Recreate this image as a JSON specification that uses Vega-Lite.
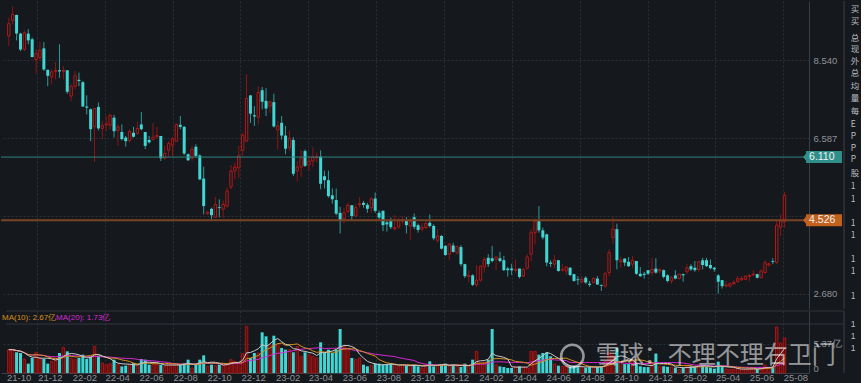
{
"$schema":"https://vega.github.io/schema/vega-lite/v6.json",
"background":"#15181d",
"padding":0,
"config":{"view":{"stroke":null},"concat":{"spacing":0},"font":"Liberation Sans",
"axis":{"labelFont":"Liberation Sans","labelColor":"#8e939a","labelFontSize":9.5,"gridColor":"#2c3037","gridDash":[2,2],"ticks":false,"domain":false}},
"datasets":{"k":[
{"d":"2021-10-11","o":9.15,"h":9.61,"l":8.90,"c":9.46,"v":4.32},
{"d":"2021-10-18","o":9.54,"h":9.90,"l":9.44,"c":9.69,"v":4.32},
{"d":"2021-10-25","o":9.68,"h":9.69,"l":9.04,"c":9.21,"v":3.83},
{"d":"2021-11-01","o":9.21,"h":9.23,"l":8.77,"c":8.81,"v":3.70},
{"d":"2021-11-08","o":8.81,"h":9.29,"l":8.77,"c":9.23,"v":2.59},
{"d":"2021-11-15","o":9.21,"h":9.32,"l":8.94,"c":9.04,"v":1.73},
{"d":"2021-11-22","o":9.07,"h":9.11,"l":8.61,"c":8.62,"v":2.78},
{"d":"2021-11-29","o":8.56,"h":8.82,"l":8.20,"c":8.71,"v":3.83},
{"d":"2021-12-06","o":8.61,"h":9.01,"l":8.52,"c":8.79,"v":2.78},
{"d":"2021-12-13","o":8.84,"h":9.00,"l":8.27,"c":8.31,"v":2.59},
{"d":"2021-12-20","o":8.30,"h":8.31,"l":7.89,"c":8.15,"v":1.73},
{"d":"2021-12-27","o":8.12,"h":8.31,"l":7.94,"c":8.25,"v":2.16},
{"d":"2022-01-03","o":8.26,"h":8.50,"l":8.06,"c":8.29,"v":2.78},
{"d":"2022-01-10","o":8.29,"h":8.94,"l":8.10,"c":8.26,"v":3.70},
{"d":"2022-01-17","o":8.26,"h":8.40,"l":8.06,"c":8.29,"v":4.75},
{"d":"2022-01-24","o":8.29,"h":8.29,"l":7.70,"c":7.75,"v":4.01},
{"d":"2022-01-31","o":7.64,"h":7.94,"l":7.52,"c":7.89,"v":2.78},
{"d":"2022-02-07","o":7.89,"h":8.27,"l":7.81,"c":8.15,"v":2.47},
{"d":"2022-02-14","o":8.05,"h":8.23,"l":7.89,"c":8.02,"v":2.78},
{"d":"2022-02-21","o":7.99,"h":8.02,"l":7.37,"c":7.38,"v":3.40},
{"d":"2022-02-28","o":7.38,"h":7.66,"l":7.18,"c":7.35,"v":2.59},
{"d":"2022-03-07","o":7.31,"h":7.33,"l":6.51,"c":6.81,"v":3.09},
{"d":"2022-03-14","o":6.87,"h":7.33,"l":5.99,"c":7.33,"v":4.94},
{"d":"2022-03-21","o":7.37,"h":7.48,"l":6.78,"c":6.83,"v":3.21},
{"d":"2022-03-28","o":6.83,"h":7.03,"l":6.56,"c":6.90,"v":1.85},
{"d":"2022-04-04","o":6.92,"h":7.14,"l":6.76,"c":6.94,"v":1.54},
{"d":"2022-04-11","o":6.91,"h":7.20,"l":6.81,"c":7.16,"v":1.73},
{"d":"2022-04-18","o":7.10,"h":7.17,"l":6.60,"c":6.76,"v":2.47},
{"d":"2022-04-25","o":6.78,"h":6.93,"l":6.39,"c":6.87,"v":1.54},
{"d":"2022-05-02","o":6.74,"h":6.93,"l":6.53,"c":6.56,"v":1.23},
{"d":"2022-05-09","o":6.60,"h":6.64,"l":6.37,"c":6.51,"v":1.36},
{"d":"2022-05-16","o":6.53,"h":6.81,"l":6.47,"c":6.75,"v":1.54},
{"d":"2022-05-23","o":6.72,"h":6.87,"l":6.60,"c":6.62,"v":1.85},
{"d":"2022-05-30","o":6.70,"h":7.00,"l":6.68,"c":6.83,"v":1.54},
{"d":"2022-06-06","o":6.93,"h":7.24,"l":6.78,"c":6.81,"v":2.59},
{"d":"2022-06-13","o":6.74,"h":6.74,"l":6.31,"c":6.39,"v":2.47},
{"d":"2022-06-20","o":6.54,"h":6.64,"l":6.45,"c":6.48,"v":1.54},
{"d":"2022-06-27","o":6.55,"h":6.97,"l":6.53,"c":6.61,"v":1.54},
{"d":"2022-07-04","o":6.62,"h":6.87,"l":6.58,"c":6.65,"v":1.54},
{"d":"2022-07-11","o":6.64,"h":6.64,"l":6.01,"c":6.08,"v":1.54},
{"d":"2022-07-18","o":6.08,"h":6.39,"l":6.05,"c":6.20,"v":1.23},
{"d":"2022-07-25","o":6.28,"h":6.51,"l":6.11,"c":6.45,"v":1.54},
{"d":"2022-08-01","o":6.41,"h":6.61,"l":6.14,"c":6.57,"v":1.54},
{"d":"2022-08-08","o":6.51,"h":6.95,"l":6.50,"c":6.93,"v":1.54},
{"d":"2022-08-15","o":6.92,"h":7.14,"l":6.81,"c":6.87,"v":1.54},
{"d":"2022-08-22","o":6.87,"h":6.89,"l":6.16,"c":6.20,"v":1.85},
{"d":"2022-08-29","o":6.18,"h":6.20,"l":6.01,"c":6.03,"v":2.47},
{"d":"2022-09-05","o":6.08,"h":6.39,"l":6.01,"c":6.30,"v":0.93},
{"d":"2022-09-12","o":6.37,"h":6.43,"l":6.10,"c":6.14,"v":1.54},
{"d":"2022-09-19","o":6.15,"h":6.18,"l":5.53,"c":5.55,"v":2.47},
{"d":"2022-09-26","o":5.57,"h":5.87,"l":4.67,"c":4.88,"v":3.27},
{"d":"2022-10-03","o":4.69,"h":4.76,"l":4.65,"c":4.73,"v":1.23},
{"d":"2022-10-10","o":4.81,"h":4.84,"l":4.55,"c":4.65,"v":1.54},
{"d":"2022-10-17","o":4.60,"h":5.11,"l":4.59,"c":4.92,"v":1.36},
{"d":"2022-10-24","o":4.85,"h":5.05,"l":4.60,"c":4.83,"v":1.54},
{"d":"2022-10-31","o":4.80,"h":5.02,"l":4.59,"c":4.92,"v":1.67},
{"d":"2022-11-07","o":4.88,"h":5.34,"l":4.84,"c":5.26,"v":1.67},
{"d":"2022-11-14","o":5.36,"h":5.91,"l":5.30,"c":5.76,"v":2.47},
{"d":"2022-11-21","o":5.76,"h":5.97,"l":5.55,"c":5.86,"v":2.16},
{"d":"2022-11-28","o":5.84,"h":6.39,"l":5.59,"c":6.14,"v":1.85},
{"d":"2022-12-05","o":6.28,"h":6.72,"l":6.14,"c":6.66,"v":3.58},
{"d":"2022-12-12","o":6.51,"h":8.19,"l":6.50,"c":7.58,"v":8.64},
{"d":"2022-12-19","o":7.66,"h":7.66,"l":6.97,"c":7.20,"v":2.78},
{"d":"2022-12-26","o":7.16,"h":7.39,"l":6.89,"c":7.13,"v":3.70},
{"d":"2023-01-02","o":7.11,"h":7.89,"l":6.93,"c":7.73,"v":3.70},
{"d":"2023-01-09","o":7.79,"h":7.87,"l":7.31,"c":7.50,"v":7.53},
{"d":"2023-01-16","o":7.52,"h":7.84,"l":7.14,"c":7.33,"v":6.79},
{"d":"2023-01-23","o":7.39,"h":7.53,"l":7.22,"c":7.50,"v":5.25},
{"d":"2023-01-30","o":7.49,"h":7.70,"l":6.85,"c":6.88,"v":6.91},
{"d":"2023-02-06","o":6.79,"h":7.02,"l":6.30,"c":6.89,"v":5.43},
{"d":"2023-02-13","o":6.97,"h":7.14,"l":6.55,"c":6.65,"v":4.63},
{"d":"2023-02-20","o":6.65,"h":6.89,"l":6.18,"c":6.32,"v":4.32},
{"d":"2023-02-27","o":6.35,"h":6.78,"l":6.26,"c":6.58,"v":4.32},
{"d":"2023-03-06","o":6.54,"h":6.61,"l":5.63,"c":5.69,"v":3.83},
{"d":"2023-03-13","o":5.76,"h":6.01,"l":5.49,"c":5.86,"v":4.94},
{"d":"2023-03-20","o":5.86,"h":6.28,"l":5.61,"c":6.09,"v":3.09},
{"d":"2023-03-27","o":6.26,"h":6.30,"l":5.86,"c":5.89,"v":3.83},
{"d":"2023-04-03","o":5.91,"h":6.14,"l":5.76,"c":6.01,"v":3.40},
{"d":"2023-04-10","o":6.01,"h":6.36,"l":5.86,"c":6.11,"v":3.09},
{"d":"2023-04-17","o":6.09,"h":6.22,"l":5.97,"c":6.12,"v":2.78},
{"d":"2023-04-24","o":6.12,"h":6.28,"l":5.30,"c":5.44,"v":5.68},
{"d":"2023-05-01","o":5.63,"h":5.77,"l":5.32,"c":5.53,"v":3.83},
{"d":"2023-05-08","o":5.53,"h":5.77,"l":5.09,"c":5.13,"v":4.32},
{"d":"2023-05-15","o":5.15,"h":5.32,"l":4.94,"c":5.05,"v":3.70},
{"d":"2023-05-22","o":5.03,"h":5.32,"l":4.65,"c":4.69,"v":4.32},
{"d":"2023-05-29","o":4.71,"h":4.86,"l":4.19,"c":4.52,"v":8.15},
{"d":"2023-06-05","o":4.57,"h":4.84,"l":4.44,"c":4.71,"v":4.94},
{"d":"2023-06-12","o":4.74,"h":4.96,"l":4.71,"c":4.90,"v":4.32},
{"d":"2023-06-19","o":4.90,"h":4.90,"l":4.52,"c":4.63,"v":2.78},
{"d":"2023-06-26","o":4.63,"h":4.92,"l":4.60,"c":4.84,"v":2.47},
{"d":"2023-07-03","o":4.91,"h":5.11,"l":4.84,"c":4.94,"v":2.78},
{"d":"2023-07-10","o":4.96,"h":5.01,"l":4.84,"c":4.91,"v":1.54},
{"d":"2023-07-17","o":4.91,"h":4.96,"l":4.71,"c":4.81,"v":1.23},
{"d":"2023-07-24","o":4.84,"h":5.11,"l":4.71,"c":5.06,"v":1.36},
{"d":"2023-07-31","o":5.07,"h":5.22,"l":4.71,"c":4.76,"v":1.73},
{"d":"2023-08-07","o":4.71,"h":4.77,"l":4.55,"c":4.59,"v":1.73},
{"d":"2023-08-14","o":4.76,"h":4.77,"l":4.25,"c":4.40,"v":1.54},
{"d":"2023-08-21","o":4.47,"h":4.52,"l":4.24,"c":4.42,"v":1.54},
{"d":"2023-08-28","o":4.50,"h":4.59,"l":4.30,"c":4.35,"v":1.73},
{"d":"2023-09-04","o":4.31,"h":4.65,"l":4.27,"c":4.34,"v":1.36},
{"d":"2023-09-11","o":4.36,"h":4.59,"l":4.30,"c":4.52,"v":1.23},
{"d":"2023-09-18","o":4.51,"h":4.63,"l":4.42,"c":4.54,"v":1.54},
{"d":"2023-09-25","o":4.53,"h":4.60,"l":4.19,"c":4.40,"v":1.36},
{"d":"2023-10-02","o":4.38,"h":4.59,"l":4.02,"c":4.50,"v":1.36},
{"d":"2023-10-09","o":4.60,"h":4.69,"l":4.30,"c":4.36,"v":1.54},
{"d":"2023-10-16","o":4.40,"h":4.44,"l":4.21,"c":4.28,"v":1.23},
{"d":"2023-10-23","o":4.30,"h":4.46,"l":4.24,"c":4.35,"v":0.93},
{"d":"2023-10-30","o":4.34,"h":4.50,"l":4.30,"c":4.44,"v":1.54},
{"d":"2023-11-06","o":4.46,"h":4.67,"l":4.34,"c":4.38,"v":2.16},
{"d":"2023-11-13","o":4.38,"h":4.42,"l":4.02,"c":4.07,"v":1.23},
{"d":"2023-11-20","o":4.02,"h":4.30,"l":3.96,"c":4.13,"v":1.36},
{"d":"2023-11-27","o":4.13,"h":4.15,"l":3.79,"c":3.81,"v":1.54},
{"d":"2023-12-04","o":3.88,"h":3.90,"l":3.63,"c":3.65,"v":1.73},
{"d":"2023-12-11","o":3.67,"h":3.96,"l":3.52,"c":3.92,"v":1.23},
{"d":"2023-12-18","o":3.89,"h":3.96,"l":3.71,"c":3.73,"v":1.54},
{"d":"2023-12-25","o":3.71,"h":3.88,"l":3.65,"c":3.86,"v":1.23},
{"d":"2024-01-01","o":3.85,"h":3.90,"l":3.37,"c":3.42,"v":1.11},
{"d":"2024-01-08","o":3.42,"h":3.43,"l":3.07,"c":3.12,"v":1.73},
{"d":"2024-01-15","o":3.11,"h":3.27,"l":2.96,"c":3.14,"v":1.23},
{"d":"2024-01-22","o":3.14,"h":3.17,"l":2.87,"c":2.90,"v":2.47},
{"d":"2024-01-29","o":2.90,"h":3.40,"l":2.85,"c":3.02,"v":4.01},
{"d":"2024-02-05","o":3.02,"h":3.40,"l":2.98,"c":3.37,"v":1.85},
{"d":"2024-02-12","o":3.35,"h":3.60,"l":3.21,"c":3.54,"v":1.98},
{"d":"2024-02-19","o":3.58,"h":3.67,"l":3.35,"c":3.42,"v":2.47},
{"d":"2024-02-26","o":3.57,"h":3.88,"l":3.46,"c":3.50,"v":8.15},
{"d":"2024-03-04","o":3.54,"h":3.61,"l":3.27,"c":3.60,"v":1.54},
{"d":"2024-03-11","o":3.57,"h":3.73,"l":3.47,"c":3.50,"v":1.23},
{"d":"2024-03-18","o":3.52,"h":3.63,"l":3.25,"c":3.27,"v":1.11},
{"d":"2024-03-25","o":3.31,"h":3.35,"l":3.11,"c":3.27,"v":0.93},
{"d":"2024-04-01","o":3.31,"h":3.43,"l":3.15,"c":3.27,"v":0.93},
{"d":"2024-04-08","o":3.27,"h":3.54,"l":3.21,"c":3.29,"v":1.23},
{"d":"2024-04-15","o":3.31,"h":3.31,"l":3.06,"c":3.10,"v":1.23},
{"d":"2024-04-22","o":3.12,"h":3.32,"l":3.10,"c":3.29,"v":1.11},
{"d":"2024-04-29","o":3.32,"h":3.67,"l":3.29,"c":3.60,"v":0.93},
{"d":"2024-05-06","o":3.67,"h":4.30,"l":3.50,"c":4.21,"v":4.01},
{"d":"2024-05-13","o":4.21,"h":4.57,"l":3.92,"c":4.50,"v":4.01},
{"d":"2024-05-20","o":4.50,"h":4.88,"l":4.21,"c":4.27,"v":3.40},
{"d":"2024-05-27","o":4.27,"h":4.34,"l":4.04,"c":4.09,"v":3.70},
{"d":"2024-06-03","o":4.17,"h":4.19,"l":3.37,"c":3.46,"v":3.83},
{"d":"2024-06-10","o":3.46,"h":3.52,"l":3.35,"c":3.43,"v":3.09},
{"d":"2024-06-17","o":3.42,"h":3.65,"l":3.32,"c":3.52,"v":1.67},
{"d":"2024-06-24","o":3.52,"h":3.52,"l":3.23,"c":3.25,"v":1.36},
{"d":"2024-07-01","o":3.27,"h":3.43,"l":3.23,"c":3.29,"v":1.23},
{"d":"2024-07-08","o":3.25,"h":3.37,"l":3.15,"c":3.35,"v":1.25},
{"d":"2024-07-15","o":3.33,"h":3.35,"l":3.12,"c":3.15,"v":1.15},
{"d":"2024-07-22","o":3.17,"h":3.18,"l":2.98,"c":3.00,"v":1.30},
{"d":"2024-07-29","o":3.04,"h":3.12,"l":2.90,"c":3.02,"v":1.10},
{"d":"2024-08-05","o":2.98,"h":3.12,"l":2.93,"c":3.04,"v":1.10},
{"d":"2024-08-12","o":3.08,"h":3.12,"l":2.93,"c":2.96,"v":1.00},
{"d":"2024-08-19","o":2.93,"h":3.00,"l":2.85,"c":2.90,"v":1.10},
{"d":"2024-08-26","o":2.96,"h":3.10,"l":2.93,"c":3.06,"v":1.15},
{"d":"2024-09-02","o":3.06,"h":3.12,"l":2.90,"c":2.91,"v":1.10},
{"d":"2024-09-09","o":2.90,"h":2.91,"l":2.75,"c":2.88,"v":1.25},
{"d":"2024-09-16","o":2.87,"h":3.23,"l":2.83,"c":3.18,"v":2.10},
{"d":"2024-09-23","o":3.21,"h":3.79,"l":3.12,"c":3.71,"v":3.70},
{"d":"2024-09-30","o":4.09,"h":4.60,"l":3.92,"c":4.30,"v":3.30},
{"d":"2024-10-07","o":4.30,"h":4.44,"l":3.29,"c":3.52,"v":4.60},
{"d":"2024-10-14","o":3.48,"h":3.60,"l":3.32,"c":3.52,"v":2.10},
{"d":"2024-10-21","o":3.56,"h":3.57,"l":3.37,"c":3.46,"v":1.65},
{"d":"2024-10-28","o":3.48,"h":3.60,"l":3.35,"c":3.37,"v":1.65},
{"d":"2024-11-04","o":3.42,"h":3.63,"l":3.32,"c":3.52,"v":2.10},
{"d":"2024-11-11","o":3.50,"h":3.50,"l":3.15,"c":3.18,"v":1.65},
{"d":"2024-11-18","o":3.18,"h":3.35,"l":3.10,"c":3.12,"v":1.25},
{"d":"2024-11-25","o":3.18,"h":3.23,"l":3.06,"c":3.15,"v":1.10},
{"d":"2024-12-02","o":3.27,"h":3.27,"l":3.15,"c":3.18,"v":1.10},
{"d":"2024-12-09","o":3.21,"h":3.57,"l":3.12,"c":3.29,"v":1.65},
{"d":"2024-12-16","o":3.31,"h":3.57,"l":3.18,"c":3.21,"v":3.60},
{"d":"2024-12-23","o":3.25,"h":3.32,"l":3.18,"c":3.28,"v":1.25},
{"d":"2024-12-30","o":3.27,"h":3.29,"l":3.06,"c":3.10,"v":1.25},
{"d":"2025-01-06","o":3.14,"h":3.17,"l":2.96,"c":3.00,"v":1.15},
{"d":"2025-01-13","o":3.00,"h":3.12,"l":2.93,"c":3.08,"v":1.10},
{"d":"2025-01-20","o":3.14,"h":3.27,"l":3.04,"c":3.06,"v":1.00},
{"d":"2025-01-27","o":3.06,"h":3.18,"l":3.04,"c":3.17,"v":0.65},
{"d":"2025-02-03","o":3.17,"h":3.18,"l":2.98,"c":3.14,"v":1.00},
{"d":"2025-02-10","o":3.23,"h":3.42,"l":3.18,"c":3.33,"v":1.30},
{"d":"2025-02-17","o":3.37,"h":3.42,"l":3.25,"c":3.29,"v":1.25},
{"d":"2025-02-24","o":3.33,"h":3.50,"l":3.23,"c":3.27,"v":1.25},
{"d":"2025-03-03","o":3.29,"h":3.50,"l":3.23,"c":3.48,"v":1.50},
{"d":"2025-03-10","o":3.52,"h":3.58,"l":3.29,"c":3.40,"v":1.40},
{"d":"2025-03-17","o":3.52,"h":3.58,"l":3.35,"c":3.37,"v":1.15},
{"d":"2025-03-24","o":3.40,"h":3.54,"l":3.29,"c":3.32,"v":1.00},
{"d":"2025-03-31","o":3.33,"h":3.35,"l":3.23,"c":3.29,"v":0.80},
{"d":"2025-04-07","o":3.14,"h":3.17,"l":2.68,"c":2.98,"v":2.10},
{"d":"2025-04-14","o":3.02,"h":3.02,"l":2.81,"c":2.87,"v":1.10},
{"d":"2025-04-21","o":2.87,"h":3.00,"l":2.85,"c":2.90,"v":0.75},
{"d":"2025-04-28","o":2.87,"h":2.96,"l":2.83,"c":2.93,"v":0.66},
{"d":"2025-05-05","o":2.93,"h":3.02,"l":2.90,"c":2.96,"v":0.75},
{"d":"2025-05-12","o":2.98,"h":3.12,"l":2.96,"c":3.06,"v":0.83},
{"d":"2025-05-19","o":3.03,"h":3.12,"l":3.00,"c":3.06,"v":0.66},
{"d":"2025-05-26","o":3.04,"h":3.14,"l":3.02,"c":3.12,"v":0.66},
{"d":"2025-06-02","o":3.11,"h":3.17,"l":2.98,"c":3.14,"v":0.75},
{"d":"2025-06-09","o":3.15,"h":3.27,"l":3.12,"c":3.17,"v":0.83},
{"d":"2025-06-16","o":3.17,"h":3.18,"l":3.06,"c":3.08,"v":0.75},
{"d":"2025-06-23","o":3.08,"h":3.29,"l":3.06,"c":3.25,"v":1.00},
{"d":"2025-06-30","o":3.21,"h":3.52,"l":3.18,"c":3.46,"v":1.50},
{"d":"2025-07-07","o":3.40,"h":3.46,"l":3.35,"c":3.43,"v":1.00},
{"d":"2025-07-14","o":3.50,"h":3.57,"l":3.42,"c":3.48,"v":1.16},
{"d":"2025-07-21","o":3.46,"h":4.52,"l":3.43,"c":4.40,"v":8.52},
{"d":"2025-07-28","o":4.35,"h":4.67,"l":4.13,"c":4.50,"v":5.56},
{"d":"2025-08-04","o":4.49,"h":5.24,"l":4.34,"c":5.15,"v":6.48}
],
"side":[
{"p":9.83,"t":"买"},{"p":9.53,"t":"买"},{"p":9.10,"t":"总"},{"p":8.82,"t":"现"},{"p":8.52,"t":"外"},
{"p":8.22,"t":"总"},{"p":7.89,"t":"均"},{"p":7.59,"t":"量"},{"p":7.27,"t":"每"},{"p":6.94,"t":"E"},
{"p":6.64,"t":"P"},{"p":6.34,"t":"P"},{"p":6.06,"t":"P"},{"p":5.71,"t":"股"},{"p":5.38,"t":"1"},
{"p":5.06,"t":"1"},{"p":4.45,"t":"1"},{"p":4.15,"t":"1"},{"p":3.55,"t":"1"},{"p":3.25,"t":"1"},{"p":2.62,"t":"1"}
],
"side2":[{"p":9.07,"t":"1"},{"p":6.85,"t":"1"},{"p":4.63,"t":"1"}],
"mlab":[
{"d":"2021-10-06","t":"21-10"},{"d":"2021-12-01","t":"21-12"},{"d":"2022-02-01","t":"22-02"},{"d":"2022-04-01","t":"22-04"},
{"d":"2022-06-01","t":"22-06"},{"d":"2022-08-01","t":"22-08"},{"d":"2022-10-01","t":"22-10"},{"d":"2022-12-01","t":"22-12"},
{"d":"2023-02-01","t":"23-02"},{"d":"2023-04-01","t":"23-04"},{"d":"2023-06-01","t":"23-06"},{"d":"2023-08-01","t":"23-08"},
{"d":"2023-10-01","t":"23-10"},{"d":"2023-12-01","t":"23-12"},{"d":"2024-02-01","t":"24-02"},{"d":"2024-04-01","t":"24-04"},
{"d":"2024-06-01","t":"24-06"},{"d":"2024-08-01","t":"24-08"},{"d":"2024-10-01","t":"24-10"},{"d":"2024-12-01","t":"24-12"},
{"d":"2025-02-01","t":"25-02"},{"d":"2025-04-01","t":"25-04"},{"d":"2025-06-01","t":"25-06"},{"d":"2025-08-01","t":"25-08"}
]
},
"vconcat":[
{
"width":808,"height":308,
"layer":[
{"data":{"name":"k"},"transform":[{"filter":"datum.c >= datum.o"}],
 "mark":{"type":"rule","color":"#8f1414","strokeWidth":1},
 "encoding":{
  "x":{"field":"d","type":"temporal","title":null,"scale":{"type":"utc","domain":[{"year":2021,"month":10,"date":6,"utc":true},{"year":2025,"month":9,"date":8,"utc":true}]},
       "axis":{"values":[{"year":2021,"month":12,"date":1,"utc":true},{"year":2022,"month":2,"date":1,"utc":true},{"year":2022,"month":4,"date":1,"utc":true},{"year":2022,"month":6,"date":1,"utc":true},{"year":2022,"month":8,"date":1,"utc":true},{"year":2022,"month":10,"date":1,"utc":true},{"year":2022,"month":12,"date":1,"utc":true},{"year":2023,"month":2,"date":1,"utc":true},{"year":2023,"month":4,"date":1,"utc":true},{"year":2023,"month":6,"date":1,"utc":true},{"year":2023,"month":8,"date":1,"utc":true},{"year":2023,"month":10,"date":1,"utc":true},{"year":2023,"month":12,"date":1,"utc":true},{"year":2024,"month":2,"date":1,"utc":true},{"year":2024,"month":4,"date":1,"utc":true},{"year":2024,"month":6,"date":1,"utc":true},{"year":2024,"month":8,"date":1,"utc":true},{"year":2024,"month":10,"date":1,"utc":true},{"year":2024,"month":12,"date":1,"utc":true},{"year":2025,"month":2,"date":1,"utc":true},{"year":2025,"month":4,"date":1,"utc":true},{"year":2025,"month":6,"date":1,"utc":true},{"year":2025,"month":8,"date":1,"utc":true}],
               "labels":false,"grid":true,"domain":false,"ticks":false}},
  "y":{"field":"l","type":"quantitative","title":null,"scale":{"domain":[2.295,10.029],"nice":false,"zero":false},
       "axis":{"orient":"right","values":[2.68,4.633,6.587,8.54],"format":".3f","grid":true,"domain":true,"domainColor":"#3a3e45","labelPadding":4,
               "labelExpr":"datum.value > 4.6 && datum.value < 4.7 ? '' : datum.label"}},
  "y2":{"field":"h"}}},
{"data":{"name":"k"},"transform":[{"filter":"datum.c < datum.o"}],
 "mark":{"type":"rule","color":"#2e9c99","strokeWidth":1},
 "encoding":{
  "x":{"field":"d","type":"temporal","title":null,"scale":{"type":"utc","domain":[{"year":2021,"month":10,"date":6,"utc":true},{"year":2025,"month":9,"date":8,"utc":true}]}},
  "y":{"field":"l","type":"quantitative","title":null,"scale":{"domain":[2.295,10.029],"nice":false,"zero":false}},
  "y2":{"field":"h"}}},
{"data":{"name":"k"},"transform":[{"filter":"datum.c < datum.o"}],
 "mark":{"type":"bar","width":3,"color":"#40d6d3"},
 "encoding":{
  "x":{"field":"d","type":"temporal","title":null,"scale":{"type":"utc","domain":[{"year":2021,"month":10,"date":6,"utc":true},{"year":2025,"month":9,"date":8,"utc":true}]}},
  "y":{"field":"o","type":"quantitative","title":null,"scale":{"domain":[2.295,10.029],"nice":false,"zero":false}},
  "y2":{"field":"c"}}},
{"data":{"name":"k"},"transform":[{"filter":"datum.c >= datum.o"}],
 "mark":{"type":"bar","width":2.4,"fill":"#15181d","stroke":"#b01a1a","strokeWidth":1},
 "encoding":{
  "x":{"field":"d","type":"temporal","title":null,"scale":{"type":"utc","domain":[{"year":2021,"month":10,"date":6,"utc":true},{"year":2025,"month":9,"date":8,"utc":true}]}},
  "y":{"field":"o","type":"quantitative","title":null,"scale":{"domain":[2.295,10.029],"nice":false,"zero":false}},
  "y2":{"field":"c"}}},
{"data":{"values":[{"p":6.110}]},
 "mark":{"type":"rule","color":"#2f8682","strokeWidth":1},
 "encoding":{"y":{"field":"p","type":"quantitative","title":null,"scale":{"domain":[2.295,10.029],"nice":false,"zero":false}}}},
{"data":{"values":[{"p":4.526}]},
 "mark":{"type":"rule","color":"#7a4424","strokeWidth":2},
 "encoding":{"y":{"field":"p","type":"quantitative","title":null,"scale":{"domain":[2.295,10.029],"nice":false,"zero":false}}}},
{"data":{"values":[{"p":6.110,"t":"6.110"}]},
 "mark":{"type":"point","shape":"M-1.167,0L-1,-0.2L-1,-0.333L1,-0.333L1,0.333L-1,0.333L-1,0.2Z","size":1296,"filled":true,"opacity":1,"color":"#2e8f8b"},
 "encoding":{"x":{"datum":{"year":2025,"month":10,"date":14,"utc":true},"type":"temporal","scale":{"type":"utc","domain":[{"year":2021,"month":10,"date":6,"utc":true},{"year":2025,"month":9,"date":8,"utc":true}]}},
  "y":{"field":"p","type":"quantitative","title":null,"scale":{"domain":[2.295,10.029],"nice":false,"zero":false}}}},
{"data":{"values":[{"p":4.526,"t":"4.526"}]},
 "mark":{"type":"point","shape":"M-1.167,0L-1,-0.2L-1,-0.333L1,-0.333L1,0.333L-1,0.333L-1,0.2Z","size":1296,"filled":true,"opacity":1,"color":"#c2601d"},
 "encoding":{"x":{"datum":{"year":2025,"month":10,"date":14,"utc":true},"type":"temporal","scale":{"type":"utc","domain":[{"year":2021,"month":10,"date":6,"utc":true},{"year":2025,"month":9,"date":8,"utc":true}]}},
  "y":{"field":"p","type":"quantitative","title":null,"scale":{"domain":[2.295,10.029],"nice":false,"zero":false}}}},
{"data":{"values":[{"p":6.110,"t":"6.110"},{"p":4.526,"t":"4.526"}]},
 "mark":{"type":"text","color":"#f2f2f2","fontSize":10.5,"align":"left","baseline":"middle","dx":-15},
 "encoding":{"x":{"datum":{"year":2025,"month":10,"date":14,"utc":true},"type":"temporal","scale":{"type":"utc","domain":[{"year":2021,"month":10,"date":6,"utc":true},{"year":2025,"month":9,"date":8,"utc":true}]}},
  "y":{"field":"p","type":"quantitative","title":null,"scale":{"domain":[2.295,10.029],"nice":false,"zero":false}},
  "text":{"field":"t"}}},
{"data":{"values":[{"a":1}]},
 "mark":{"type":"rule","color":"#2a2d33","strokeWidth":2},
 "encoding":{"x":{"datum":{"year":2025,"month":11,"date":19,"utc":true},"type":"temporal","scale":{"type":"utc","domain":[{"year":2021,"month":10,"date":6,"utc":true},{"year":2025,"month":9,"date":8,"utc":true}]}}}},
{"data":{"values":[{"a":1}]},
 "mark":{"type":"rule","color":"#15181d","strokeWidth":0.2,"opacity":0},
 "encoding":{"x":{"datum":{"year":2025,"month":12,"date":18,"utc":true},"type":"temporal","scale":{"type":"utc","domain":[{"year":2021,"month":10,"date":6,"utc":true},{"year":2025,"month":9,"date":8,"utc":true}]}}}},
{"data":{"name":"side"},
 "mark":{"type":"text","color":"#b9bdc3","fontSize":8.5,"font":"Noto Sans CJK SC","align":"left","baseline":"middle"},
 "encoding":{"x":{"datum":{"year":2025,"month":12,"date":1,"utc":true},"type":"temporal","scale":{"type":"utc","domain":[{"year":2021,"month":10,"date":6,"utc":true},{"year":2025,"month":9,"date":8,"utc":true}]}},
  "y":{"field":"p","type":"quantitative","title":null,"scale":{"domain":[2.295,10.029],"nice":false,"zero":false}},
  "text":{"field":"t"}}}
]
},
{
"width":808,"height":62,
"layer":[
{"data":{"name":"k"},"transform":[{"filter":"datum.c < datum.o"}],
 "mark":{"type":"bar","width":3,"color":"#40d6d3"},
 "encoding":{
  "x":{"field":"d","type":"temporal","title":null,"scale":{"type":"utc","domain":[{"year":2021,"month":10,"date":6,"utc":true},{"year":2025,"month":9,"date":8,"utc":true}]},
       "axis":{"values":[{"year":2021,"month":12,"date":1,"utc":true},{"year":2022,"month":2,"date":1,"utc":true},{"year":2022,"month":4,"date":1,"utc":true},{"year":2022,"month":6,"date":1,"utc":true},{"year":2022,"month":8,"date":1,"utc":true},{"year":2022,"month":10,"date":1,"utc":true},{"year":2022,"month":12,"date":1,"utc":true},{"year":2023,"month":2,"date":1,"utc":true},{"year":2023,"month":4,"date":1,"utc":true},{"year":2023,"month":6,"date":1,"utc":true},{"year":2023,"month":8,"date":1,"utc":true},{"year":2023,"month":10,"date":1,"utc":true},{"year":2023,"month":12,"date":1,"utc":true},{"year":2024,"month":2,"date":1,"utc":true},{"year":2024,"month":4,"date":1,"utc":true},{"year":2024,"month":6,"date":1,"utc":true},{"year":2024,"month":8,"date":1,"utc":true},{"year":2024,"month":10,"date":1,"utc":true},{"year":2024,"month":12,"date":1,"utc":true},{"year":2025,"month":2,"date":1,"utc":true},{"year":2025,"month":4,"date":1,"utc":true},{"year":2025,"month":6,"date":1,"utc":true},{"year":2025,"month":8,"date":1,"utc":true}],
               "labels":false,"grid":true,"domain":true,"domainColor":"#3a3e45","ticks":false}},
  "y":{"field":"v","type":"quantitative","title":null,"scale":{"domain":[0,11.48],"nice":false},
       "axis":{"orient":"right","values":[0,5.37],"grid":true,"domain":true,"domainColor":"#3a3e45","labelPadding":4,
               "labelExpr":"datum.value == 0 ? '0' : '5.37亿'",
               "labelBaseline":{"condition":{"test":"datum.value == 0","value":"bottom"},"value":"middle"}}}}},
{"data":{"name":"k"},"transform":[{"filter":"datum.c >= datum.o"}],
 "mark":{"type":"bar","width":2.4,"fill":"#5c0e0e","stroke":"#a31616","strokeWidth":1},
 "encoding":{
  "x":{"field":"d","type":"temporal","title":null,"scale":{"type":"utc","domain":[{"year":2021,"month":10,"date":6,"utc":true},{"year":2025,"month":9,"date":8,"utc":true}]}},
  "y":{"field":"v","type":"quantitative","title":null,"scale":{"domain":[0,11.48],"nice":false}}}},
{"data":{"name":"k"},"transform":[{"window":[{"op":"mean","field":"v","as":"ma20"}],"frame":[-19,0],"sort":[{"field":"d"}]}],
 "mark":{"type":"line","color":"#d42ad4","strokeWidth":1},
 "encoding":{
  "x":{"field":"d","type":"temporal","title":null,"scale":{"type":"utc","domain":[{"year":2021,"month":10,"date":6,"utc":true},{"year":2025,"month":9,"date":8,"utc":true}]}},
  "y":{"field":"ma20","type":"quantitative","title":null,"scale":{"domain":[0,11.48],"nice":false}}}},
{"data":{"name":"k"},"transform":[{"window":[{"op":"mean","field":"v","as":"ma10"}],"frame":[-9,0],"sort":[{"field":"d"}]}],
 "mark":{"type":"line","color":"#d8901c","strokeWidth":1},
 "encoding":{
  "x":{"field":"d","type":"temporal","title":null,"scale":{"type":"utc","domain":[{"year":2021,"month":10,"date":6,"utc":true},{"year":2025,"month":9,"date":8,"utc":true}]}},
  "y":{"field":"ma10","type":"quantitative","title":null,"scale":{"domain":[0,11.48],"nice":false}}}},
{"data":{"name":"k"},"transform":[{"window":[{"op":"mean","field":"v","as":"ma5"}],"frame":[-4,0],"sort":[{"field":"d"}]}],
 "mark":{"type":"line","color":"#c9c9c9","strokeWidth":1},
 "encoding":{
  "x":{"field":"d","type":"temporal","title":null,"scale":{"type":"utc","domain":[{"year":2021,"month":10,"date":6,"utc":true},{"year":2025,"month":9,"date":8,"utc":true}]}},
  "y":{"field":"ma5","type":"quantitative","title":null,"scale":{"domain":[0,11.48],"nice":false}}}},
{"data":{"values":[{"p":11.48},{"p":9.07}]},
 "mark":{"type":"rule","color":"#33373d","strokeWidth":1},
 "encoding":{
  "x":{"datum":{"year":2021,"month":10,"date":6,"utc":true},"type":"temporal","scale":{"type":"utc","domain":[{"year":2021,"month":10,"date":6,"utc":true},{"year":2025,"month":9,"date":8,"utc":true}]}},
  "x2":{"datum":{"year":2025,"month":11,"date":19,"utc":true}},
  "y":{"field":"p","type":"quantitative","title":null,"scale":{"domain":[0,11.48],"nice":false}}}},
{"data":{"values":[{"a":1}]},
 "mark":{"type":"rule","color":"#2a2d33","strokeWidth":2},
 "encoding":{"x":{"datum":{"year":2025,"month":11,"date":19,"utc":true},"type":"temporal","scale":{"type":"utc","domain":[{"year":2021,"month":10,"date":6,"utc":true},{"year":2025,"month":9,"date":8,"utc":true}]}}}},
{"data":{"values":[{"a":1}]},
 "mark":{"type":"rule","color":"#15181d","strokeWidth":0.2,"opacity":0},
 "encoding":{"x":{"datum":{"year":2025,"month":12,"date":18,"utc":true},"type":"temporal","scale":{"type":"utc","domain":[{"year":2021,"month":10,"date":6,"utc":true},{"year":2025,"month":9,"date":8,"utc":true}]}},
  "y":{"datum":11.48,"type":"quantitative","scale":{"domain":[0,11.48],"nice":false}},
  "y2":{"datum":-2.4}}},
{"data":{"name":"side2"},
 "mark":{"type":"text","color":"#b9bdc3","fontSize":8.5,"align":"left","baseline":"middle"},
 "encoding":{"x":{"datum":{"year":2025,"month":12,"date":1,"utc":true},"type":"temporal","scale":{"type":"utc","domain":[{"year":2021,"month":10,"date":6,"utc":true},{"year":2025,"month":9,"date":8,"utc":true}]}},
  "y":{"field":"p","type":"quantitative","title":null,"scale":{"domain":[0,11.48],"nice":false}},
  "text":{"field":"t"}}},
{"data":{"name":"mlab"},
 "mark":{"type":"text","color":"#8e939a","fontSize":9.5,"align":"left","baseline":"middle","dx":1},
 "encoding":{"x":{"field":"d","type":"temporal","scale":{"type":"utc","domain":[{"year":2021,"month":10,"date":6,"utc":true},{"year":2025,"month":9,"date":8,"utc":true}]}},
  "y":{"datum":-1.0,"type":"quantitative","scale":{"domain":[0,11.48],"nice":false}},
  "text":{"field":"t"}}},
{"data":{"values":[{"t":"MA(10): 2.67亿"}]},
 "mark":{"type":"text","color":"#d8901c","fontSize":8,"align":"left","baseline":"middle","dx":-4,"clip":true},
 "encoding":{"x":{"datum":{"year":2021,"month":10,"date":6,"utc":true},"type":"temporal","scale":{"type":"utc","domain":[{"year":2021,"month":10,"date":6,"utc":true},{"year":2025,"month":9,"date":8,"utc":true}]}},
  "y":{"datum":10.25,"type":"quantitative","scale":{"domain":[0,11.48],"nice":false}},
  "text":{"field":"t"}}},
{"data":{"values":[{"t":"MA(20): 1.73亿"}]},
 "mark":{"type":"text","color":"#d42ad4","fontSize":8,"align":"left","baseline":"middle"},
 "encoding":{"x":{"datum":{"year":2022,"month":1,"date":4,"utc":true},"type":"temporal","scale":{"type":"utc","domain":[{"year":2021,"month":10,"date":6,"utc":true},{"year":2025,"month":9,"date":8,"utc":true}]}},
  "y":{"datum":10.25,"type":"quantitative","scale":{"domain":[0,11.48],"nice":false}},
  "text":{"field":"t"}}},
{"data":{"values":[{"a":1}]},
 "mark":{"type":"point","shape":"circle","size":500,"filled":false,"strokeWidth":2.5,"color":"#ffffff","opacity":0.55},
 "encoding":{"x":{"datum":{"year":2024,"month":7,"date":19,"utc":true},"type":"temporal","scale":{"type":"utc","domain":[{"year":2021,"month":10,"date":6,"utc":true},{"year":2025,"month":9,"date":8,"utc":true}]}},
  "y":{"datum":3.15,"type":"quantitative","scale":{"domain":[0,11.48],"nice":false}}}},
{"data":{"values":[{"t":"雪球：不理不理右卫门"}]},
 "mark":{"type":"text","color":"#ffffff","opacity":0.55,"fontSize":24,"font":"Noto Sans CJK SC","align":"left","baseline":"middle"},
 "encoding":{"x":{"datum":{"year":2024,"month":8,"date":30,"utc":true},"type":"temporal","scale":{"type":"utc","domain":[{"year":2021,"month":10,"date":6,"utc":true},{"year":2025,"month":9,"date":8,"utc":true}]}},
  "y":{"datum":3.15,"type":"quantitative","scale":{"domain":[0,11.48],"nice":false}},
  "text":{"field":"t"}}}
]
}
]
}
